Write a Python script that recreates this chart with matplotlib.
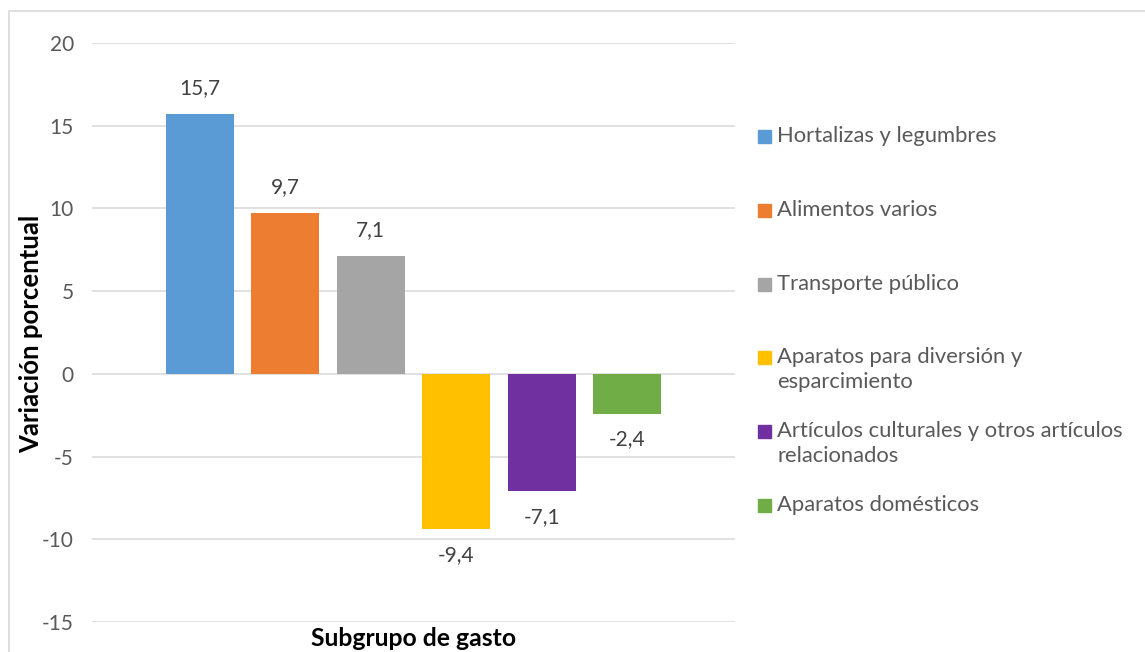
import matplotlib.pyplot as plt
from matplotlib.patches import Rectangle

plt.rcParams['font.family'] = ['Lato', 'DejaVu Sans']

# data
categorias = ["Hortalizas y legumbres", "Alimentos varios", "Transporte público",
              "Aparatos para diversión y\nesparcimiento",
              "Artículos culturales y otros artículos\nrelacionados",
              "Aparatos domésticos"]
variacion = [15.7, 9.7, 7.1, -9.4, -7.1, -2.4]
colores = ["#5b9bd5", "#ed7d31", "#a5a5a5", "#ffc000", "#7030a0", "#70ad47"]
yticks = [-15, -10, -5, 0, 5, 10, 15, 20]

W, H = 1145, 652
fig = plt.figure(figsize=(W / 100, H / 100), dpi=100)
ax = fig.add_axes([92 / W, 1 - 622 / H, (735 - 92) / W, (622 - 43) / H])

x = list(range(len(variacion)))
bars = ax.bar(x, variacion, width=0.795, color=colores, zorder=3)

ax.set_xlim(-1.263, len(variacion) - 1 + 1.263)
ax.set_ylim(-15, 20)
ax.set_yticks(yticks)
ax.set_yticklabels([str(t) for t in yticks])
ax.set_xticks([])
ax.grid(axis="y", color="#d9d9d9", linewidth=1.1, zorder=0)
for s in ax.spines.values():
    s.set_visible(False)
ax.tick_params(axis="y", length=0, pad=13, labelsize=15, labelcolor="#595959")

# etiquetas de datos
for b, v in zip(bars, variacion):
    off = 26 if v > 0 else -26
    ax.annotate(f"{v:.1f}".replace(".", ","), (b.get_x() + b.get_width() / 2, v),
                xytext=(0, off), textcoords="offset pixels", ha="center",
                va="center", fontsize=15, color="#404040")

# titulos de ejes
fig.text(31 / W, 1 - 334 / H, "Variación porcentual", rotation=90, ha="center",
         va="center", fontsize=18.5, fontweight="bold", color="#000000")
fig.text(414 / W, 1 - 638 / H, "Subgrupo de gasto", ha="center", va="center",
         fontsize=17.8, fontweight="bold", color="#000000")

# leyenda a la derecha
for i, (lab, c) in enumerate(zip(categorias, colores)):
    ytop = 126 + i * 73.8
    fig.patches.append(Rectangle((758 / W, 1 - (ytop + 17) / H), 13 / W, 13 / H,
                                 transform=fig.transFigure, color=c))
    fig.text(777 / W, 1 - ytop / H, lab, ha="left", va="top", fontsize=15.8,
             color="#595959", linespacing=1.3)

# marco del grafico
fig.patches.append(Rectangle((9 / W, -0.05), 1.1, 1 - 11 / H + 0.05,
                             transform=fig.transFigure, fill=False,
                             edgecolor="#d9d9d9", linewidth=1.2))

fig.savefig("out.png", dpi=100)
